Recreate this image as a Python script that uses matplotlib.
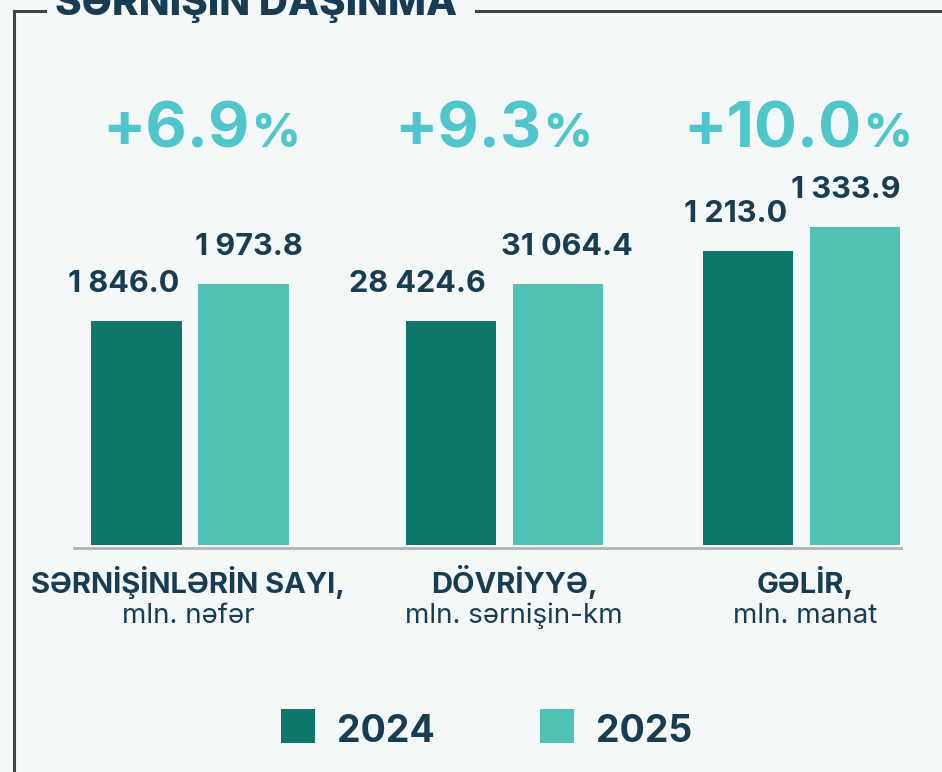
import matplotlib
matplotlib.use("Agg")
import matplotlib.pyplot as plt
from matplotlib.patches import Rectangle
from matplotlib.lines import Line2D

plt.rcParams['font.family'] = ['Inter', 'DejaVu Sans']

# data
years = ['2024', '2025']
categories = ['SƏRNİŞİNLƏRİN SAYI,', 'DÖVRİYYƏ,', 'GƏLİR,']
units = ['mln. nəfər', 'mln. sərnişin-km', 'mln. manat']
values_2024 = [1846.0, 28424.6, 1213.0]
values_2025 = [1973.8, 31064.4, 1333.9]

# each indicator gets its own value axis
y_ranges = [(1072, 2747), (12445, 47038), (-268, 2175)]

bg = '#f4f8f9'
dark = '#0d7869'
light = '#4fc2b3'
accent = '#4fc6cc'
ink = '#183d52'

W, H = 942, 772
fig = plt.figure(figsize=(W / 100, H / 100), dpi=100, facecolor=bg)


def fx(px):
    return px / W


def fy(py):
    return 1 - py / H


# frame around the block
fig.add_artist(Line2D([fx(14), fx(14)], [fy(11), fy(772)], color='#444444', lw=2.2))
fig.add_artist(Line2D([fx(14), fx(45)], [fy(11), fy(11)], color='#444444', lw=2.2))
fig.add_artist(Line2D([fx(476), fx(942)], [fy(11), fy(11)], color='#444444', lw=2.2))
fig.text(fx(256), fy(15), 'SƏRNİŞİN DAŞINMA', ha='center', va='baseline',
         fontsize=29, fontweight='heavy', color=ink)

centers = [190, 504.5, 801.5]
label_dx = [(-12.5, 5.5), (-34, 9), (-12.5, -9.5)]
pct_center = [201, 493, 797.5]
cat_center = [188, 514, 805]

axes_w = 260
bar_step = 107  # pixels between the two bars of a group
renderer = fig.canvas.get_renderer()

for i in range(3):
    ax = fig.add_axes([fx(centers[i] - axes_w / 2), fy(545), fx(axes_w), (545 - 60) / H])
    ax.set_xlim(-axes_w / bar_step / 2, axes_w / bar_step / 2)
    lo, hi = y_ranges[i]
    ax.set_ylim(lo, hi)
    ax.axis('off')
    ax.patch.set_alpha(0)
    vals = [values_2024[i], values_2025[i]]
    # bars rise from the bottom of each group's own axis
    bars = ax.bar([-0.5, 0.5], [v - lo for v in vals], width=0.85, bottom=lo,
                  color=[dark, light])
    for b, v, dx in zip(bars, vals, label_dx[i]):
        ax.annotate(f'{v:,.1f}'.replace(',', ' '), (b.get_x() + b.get_width() / 2, v),
                    xytext=(dx, 29), textcoords='offset pixels', ha='center', va='baseline',
                    fontsize=22, fontweight='bold', color=ink)

    # growth label, number and a smaller percent sign
    growth = (values_2025[i] / values_2024[i] - 1) * 100
    t1 = fig.text(0, fy(147), f'+{growth:.1f}', ha='left', va='baseline',
                  fontsize=46, fontweight='bold', color=accent)
    t2 = fig.text(0, fy(147), '%', ha='left', va='baseline',
                  fontsize=34, fontweight='heavy', color=accent)
    w1 = t1.get_window_extent(renderer).width
    w2 = t2.get_window_extent(renderer).width
    left = pct_center[i] - (w1 + w2 + 2) / 2
    t1.set_x(fx(left))
    t2.set_x(fx(left + w1 + 2))

    fig.text(fx(cat_center[i]), fy(593), categories[i], ha='center', va='baseline',
             fontsize=21, fontweight='bold', color=ink)
    fig.text(fx(cat_center[i]), fy(623), units[i], ha='center', va='baseline',
             fontsize=20, color=ink)

# baseline under the bars
fig.add_artist(Line2D([fx(74), fx(901)], [fy(548), fy(548)], color='#b3b3b3', lw=2))

# legend
for x0, col, yr in [(281, dark, years[0]), (540, light, years[1])]:
    fig.add_artist(Rectangle((fx(x0), fy(743)), fx(34), 34 / H, color=col, lw=0))
    fig.text(fx(x0 + 56), fy(742), yr, ha='left', va='baseline',
             fontsize=27, fontweight='bold', color=ink)

fig.savefig('out.png', dpi=100, facecolor=bg)
